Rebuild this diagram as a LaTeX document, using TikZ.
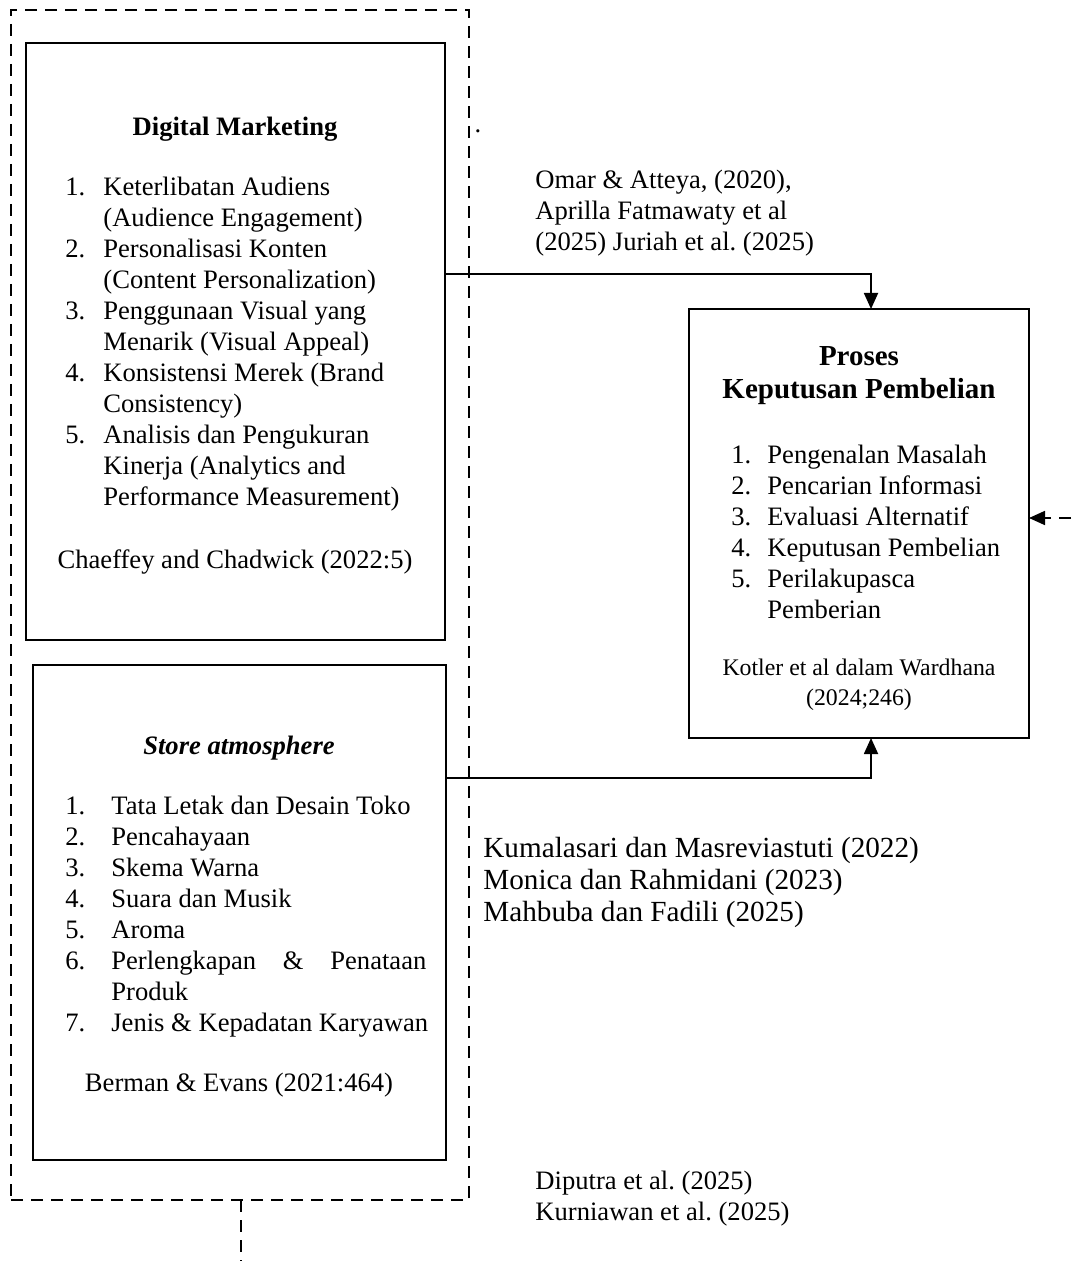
\documentclass[tikz,border=0pt]{standalone}
\usepackage{fontspec}
\setmainfont{Liberation Serif}
\frenchspacing
\usetikzlibrary{arrows.meta}

\tikzset{
  box/.style={draw, line width=0.9pt, inner sep=0pt, outer sep=0pt},
  dashbox/.style={draw, line width=0.9pt, dash pattern=on 6pt off 4pt, inner sep=0pt, outer sep=0pt},
  link/.style={line width=0.9pt, -{Triangle[width=7pt,length=8pt]}},
  dashlink/.style={line width=0.9pt, dash pattern=on 6pt off 4pt, -{Triangle[width=7pt,length=8pt]}},
  body/.style={inner sep=0pt, font=\fontsize{13.3}{15.5}\selectfont},
  small/.style={inner sep=0pt, font=\fontsize{11.9}{15}\selectfont},
  big/.style={inner sep=0pt, font=\fontsize{14.6}{16}\selectfont},
}

\begin{document}
\begin{tikzpicture}[x=0.5pt, y=-0.5pt]
    \useasboundingbox (0,0) rectangle (1071,1261);

    % Dashed frame round both variables
    \node[dashbox, minimum width=229pt, minimum height=595pt] (frame) at (240,605) {};
    \coordinate (stem) at (241,1261);
    \draw[line width=0.9pt, dash pattern=on 6pt off 4pt] (frame.south -| stem) -- (stem);
    \node[body] (dot) at (478,131) {.};

    % Digital marketing box
    \node[box, minimum width=209.5pt, minimum height=298.5pt] (dm) at (235.5,341.5) {};
    \node[body, anchor=base, font=\fontsize{13.3}{15.5}\selectfont\bfseries] (dmtitle) at (235,136) {Digital Marketing};
    \node[body, anchor=base west] (dmlist) at (65,196) {%
      \begin{tabular}[t]{@{}p{19pt}@{}l@{}}
        1. & Keterlibatan Audiens\\
           & (Audience Engagement)\\
        2. & Personalisasi Konten\\
           & (Content Personalization)\\
        3. & Penggunaan Visual yang\\
           & Menarik (Visual Appeal)\\
        4. & Konsistensi Merek (Brand\\
           & Consistency)\\
        5. & Analisis dan Pengukuran\\
           & Kinerja (Analytics and\\
           & Performance Measurement)
      \end{tabular}};
    \node[body, anchor=base] (dmsrc) at (235,568) {Chaeffey and Chadwick (2022:5)};

    % Store atmosphere box
    \node[box, minimum width=206.5pt, minimum height=247.5pt] (sa) at (239.5,912.5) {};
    \node[body, anchor=base, font=\fontsize{13.3}{15.5}\selectfont\bfseries\itshape] (satitle) at (239,754) {Store atmosphere};
    \node[body, anchor=base west] (salist) at (65,814) {%
      \begin{tabular}[t]{@{}p{23pt}@{}l@{}}
        1. & Tata Letak dan Desain Toko\\
        2. & Pencahayaan\\
        3. & Skema Warna\\
        4. & Suara dan Musik\\
        5. & Aroma\\
        6. & \makebox[157.5pt][s]{Perlengkapan\hfill\&\hfill Penataan}\\
           & Produk\\
        7. & Jenis \& Kepadatan Karyawan
      \end{tabular}};
    \node[body, anchor=base] (sasrc) at (239,1091) {Berman \& Evans (2021:464)};

    % Purchase decision box
    \node[box, minimum width=170pt, minimum height=214.5pt] (proses) at (859,523.5) {};
    \node[body, anchor=base, align=center, font=\fontsize{14.5}{16.5}\selectfont\bfseries] (prtitle) at (859,399)
      {Proses\\Keputusan Pembelian};
    \node[body, anchor=base west] (prlist) at (731,463) {%
      \begin{tabular}[t]{@{}p{18pt}@{}l@{}}
        1. & Pengenalan Masalah\\
        2. & Pencarian Informasi\\
        3. & Evaluasi Alternatif\\
        4. & Keputusan Pembelian\\
        5. & Perilakupasca\\
           & Pemberian
      \end{tabular}};
    \node[small, anchor=base, align=center] (prsrc) at (859,705) {Kotler et al dalam Wardhana\\(2024;246)};

    % Connectors
    \coordinate (jt) at (871,274);
    \coordinate (jb) at (871,778);
    \coordinate (rin) at (1071,518);
    \draw[link] (dm.east |- jt) -- (jt) -- (proses.north -| jt);
    \draw[link] (sa.east |- jb) -- (jb) -- (proses.south -| jb);
    \draw[dashlink] (rin) -- (proses.east |- rin);

    % References
    \node[body, anchor=base west, align=left] (refdm) at (535,251)
      {Omar \& Atteya, (2020),\\Aprilla Fatmawaty et al\\(2025) Juriah et al. (2025)};
    \node[big, anchor=base west, align=left] (refsa) at (483,921)
      {Kumalasari dan Masreviastuti (2022)\\Monica dan Rahmidani (2023)\\Mahbuba dan Fadili (2025)};
    \node[body, anchor=base west, align=left] (refall) at (535,1220)
      {Diputra et al. (2025)\\Kurniawan et al. (2025)};
\end{tikzpicture}
\end{document}
